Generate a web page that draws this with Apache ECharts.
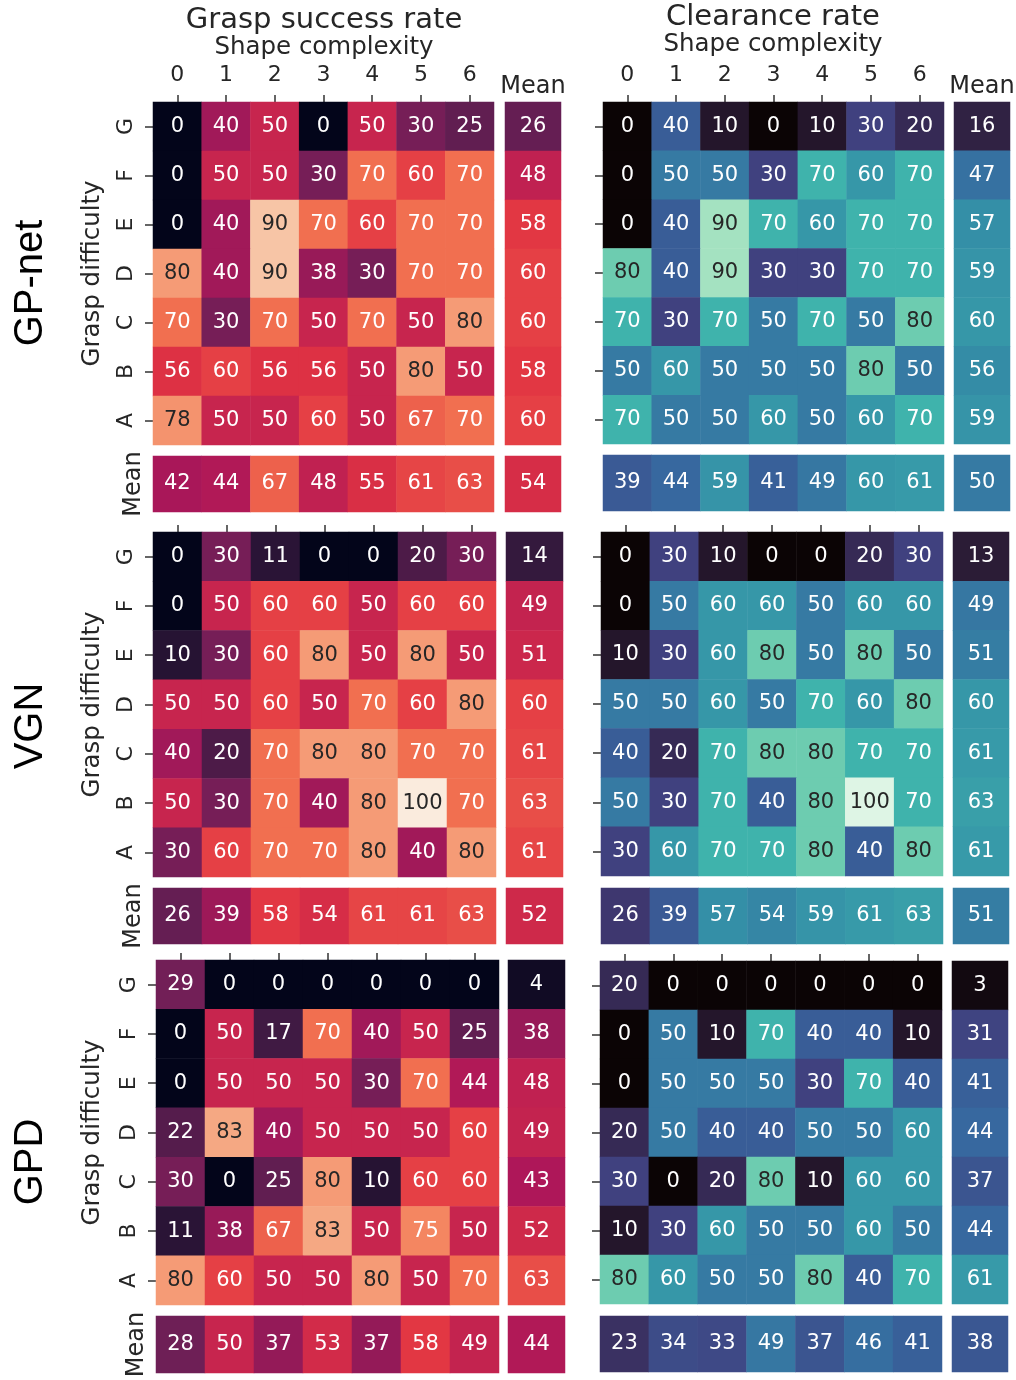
<!DOCTYPE html>
<html><head><meta charset="utf-8">
<script src="https://cdn.jsdelivr.net/npm/echarts@6/dist/echarts.min.js"></script>
<style>html,body{margin:0;padding:0;background:#fff}#c{width:1016px;height:1380px}</style>
</head><body><div id="c"></div>
<script>
// ---------- data ----------
const shapeTicks = ['0', '1', '2', '3', '4', '5', '6'];
const difficultyTicks = ['A', 'B', 'C', 'D', 'E', 'F', 'G']; // bottom -> top
const methods = ['GP-net', 'VGN', 'GPD'];
const panelTitles = ['Grasp success rate', 'Clearance rate'];
const meanLabel = 'Mean';

// rows listed top (G) to bottom (A), columns shape complexity 0..6
const gpnetSuccess = [
  [0, 40, 50, 0, 50, 30, 25],
  [0, 50, 50, 30, 70, 60, 70],
  [0, 40, 90, 70, 60, 70, 70],
  [80, 40, 90, 38, 30, 70, 70],
  [70, 30, 70, 50, 70, 50, 80],
  [56, 60, 56, 56, 50, 80, 50],
  [78, 50, 50, 60, 50, 67, 70]
];
const gpnetSuccessRowMean = [26, 48, 58, 60, 60, 58, 60];
const gpnetSuccessColMean = [42, 44, 67, 48, 55, 61, 63];
const gpnetSuccessMean = 54;

const gpnetClearance = [
  [0, 40, 10, 0, 10, 30, 20],
  [0, 50, 50, 30, 70, 60, 70],
  [0, 40, 90, 70, 60, 70, 70],
  [80, 40, 90, 30, 30, 70, 70],
  [70, 30, 70, 50, 70, 50, 80],
  [50, 60, 50, 50, 50, 80, 50],
  [70, 50, 50, 60, 50, 60, 70]
];
const gpnetClearanceRowMean = [16, 47, 57, 59, 60, 56, 59];
const gpnetClearanceColMean = [39, 44, 59, 41, 49, 60, 61];
const gpnetClearanceMean = 50;

const vgnSuccess = [
  [0, 30, 11, 0, 0, 20, 30],
  [0, 50, 60, 60, 50, 60, 60],
  [10, 30, 60, 80, 50, 80, 50],
  [50, 50, 60, 50, 70, 60, 80],
  [40, 20, 70, 80, 80, 70, 70],
  [50, 30, 70, 40, 80, 100, 70],
  [30, 60, 70, 70, 80, 40, 80]
];
const vgnSuccessRowMean = [14, 49, 51, 60, 61, 63, 61];
const vgnSuccessColMean = [26, 39, 58, 54, 61, 61, 63];
const vgnSuccessMean = 52;

const vgnClearance = [
  [0, 30, 10, 0, 0, 20, 30],
  [0, 50, 60, 60, 50, 60, 60],
  [10, 30, 60, 80, 50, 80, 50],
  [50, 50, 60, 50, 70, 60, 80],
  [40, 20, 70, 80, 80, 70, 70],
  [50, 30, 70, 40, 80, 100, 70],
  [30, 60, 70, 70, 80, 40, 80]
];
const vgnClearanceRowMean = [13, 49, 51, 60, 61, 63, 61];
const vgnClearanceColMean = [26, 39, 57, 54, 59, 61, 63];
const vgnClearanceMean = 51;

const gpdSuccess = [
  [29, 0, 0, 0, 0, 0, 0],
  [0, 50, 17, 70, 40, 50, 25],
  [0, 50, 50, 50, 30, 70, 44],
  [22, 83, 40, 50, 50, 50, 60],
  [30, 0, 25, 80, 10, 60, 60],
  [11, 38, 67, 83, 50, 75, 50],
  [80, 60, 50, 50, 80, 50, 70]
];
const gpdSuccessRowMean = [4, 38, 48, 49, 43, 52, 63];
const gpdSuccessColMean = [28, 50, 37, 53, 37, 58, 49];
const gpdSuccessMean = 44;

const gpdClearance = [
  [20, 0, 0, 0, 0, 0, 0],
  [0, 50, 10, 70, 40, 40, 10],
  [0, 50, 50, 50, 30, 70, 40],
  [20, 50, 40, 40, 50, 50, 60],
  [30, 0, 20, 80, 10, 60, 60],
  [10, 30, 60, 50, 50, 60, 50],
  [80, 60, 50, 50, 80, 40, 70]
];
const gpdClearanceRowMean = [3, 31, 41, 44, 37, 44, 61];
const gpdClearanceColMean = [23, 34, 33, 49, 37, 46, 41];
const gpdClearanceMean = 38;

// ---------- styles / layout ----------
const rocket = ['#03051a', '#35193e', '#701f57', '#ad1759', '#e13342', '#f37651', '#f6b48f', '#faebdd'];
const mako = ['#0b0405', '#2e1e3b', '#413d7b', '#37659e', '#348fa7', '#40b7ad', '#8bdab2', '#def5e5'];
const palettes = [rocket, mako];
const FONT = 'DejaVu Sans';
const INK = '#262626';

const panels = [
  [{ m: gpnetSuccess, rm: gpnetSuccessRowMean, cm: gpnetSuccessColMean, all: gpnetSuccessMean },
   { m: gpnetClearance, rm: gpnetClearanceRowMean, cm: gpnetClearanceColMean, all: gpnetClearanceMean }],
  [{ m: vgnSuccess, rm: vgnSuccessRowMean, cm: vgnSuccessColMean, all: vgnSuccessMean },
   { m: vgnClearance, rm: vgnClearanceRowMean, cm: vgnClearanceColMean, all: vgnClearanceMean }],
  [{ m: gpdSuccess, rm: gpdSuccessRowMean, cm: gpdSuccessColMean, all: gpdSuccessMean },
   { m: gpdClearance, rm: gpdClearanceRowMean, cm: gpdClearanceColMean, all: gpdClearanceMean }]
];

const geo = [
  [{ x: 153, y: 102, w: 341, h: 343, mcx: 505, mcw: 56, mry: 456, mrh: 56 },
   { x: 603, y: 102, w: 341, h: 342, mcx: 954, mcw: 56, mry: 455, mrh: 56 }],
  [{ x: 153, y: 532, w: 343, h: 345, mcx: 506, mcw: 57, mry: 888, mrh: 56 },
   { x: 601, y: 532, w: 342, h: 344, mcx: 953, mcw: 56, mry: 888, mrh: 56 }],
  [{ x: 156, y: 960, w: 343, h: 345, mcx: 508, mcw: 57, mry: 1316, mrh: 57 },
   { x: 600, y: 961, w: 342, h: 343, mcx: 952, mcw: 56, mry: 1316, mrh: 56 }]
];

function hexToRgb(h) { return [1, 3, 5].map(i => parseInt(h.substr(i, 2), 16)); }
function cmapColor(pal, v) {
  const t = Math.max(0, Math.min(1, v / 100)) * (pal.length - 1);
  const i = Math.min(pal.length - 2, Math.floor(t));
  const f = t - i;
  const a = hexToRgb(pal[i]), b = hexToRgb(pal[i + 1]);
  return a.map((c, k) => c + (b[k] - c) * f);
}
function luminance(rgb) {
  const lin = rgb.map(c => { c /= 255; return c <= 0.03928 ? c / 12.92 : Math.pow((c + 0.055) / 1.055, 2.4); });
  return 0.2126 * lin[0] + 0.7152 * lin[1] + 0.0722 * lin[2];
}
function textColor(pal, v) { return luminance(cmapColor(pal, v)) > 0.408 ? INK : '#ffffff'; }

const grids = [], xAxes = [], yAxes = [], series = [];
const vmSeries = [[], []];
const tickStyle = { color: '#333', width: 1.5 };

function item(pal, x, y, v) {
  return { value: [x, y, v], label: { color: textColor(pal, v) } };
}
function addBlock(c, rect, xa, ya, data) {
  grids.push({ left: rect[0], top: rect[1], width: rect[2], height: rect[3], outerBoundsMode: 'none', containLabel: false });
  const gi = grids.length - 1;
  xAxes.push(Object.assign({ gridIndex: gi, type: 'category', splitLine: { show: false }, splitArea: { show: false } }, xa));
  yAxes.push(Object.assign({ gridIndex: gi, type: 'category', splitLine: { show: false }, splitArea: { show: false } }, ya));
  series.push({
    type: 'heatmap', xAxisIndex: gi, yAxisIndex: gi, data: data,
    label: { show: true, formatter: p => String(p.value[2]), fontSize: 21, fontFamily: FONT },
    emphasis: { disabled: true }, silent: true, animation: false
  });
  vmSeries[c].push(series.length - 1);
}

for (let r = 0; r < 3; r++) {
  for (let c = 0; c < 2; c++) {
    const P = panels[r][c], G = geo[r][c], pal = palettes[c];
    // main 7x7
    const mainData = [];
    P.m.forEach((row, i) => row.forEach((v, j) => mainData.push(item(pal, j, 6 - i, v))));
    addBlock(c, [G.x, G.y, G.w, G.h], {
      data: shapeTicks, position: 'top',
      axisLine: { show: false },
      axisTick: { show: true, alignWithLabel: true, length: 7, lineStyle: tickStyle },
      axisLabel: { show: r === 0, interval: 0, fontSize: 22, fontFamily: FONT, color: INK, margin: 16 }
    }, {
      data: difficultyTicks,
      axisLine: { show: false },
      axisTick: { show: true, alignWithLabel: true, length: 8, lineStyle: tickStyle },
      axisLabel: { show: c === 0, interval: 0, rotate: 90, fontSize: 22, fontFamily: FONT, color: INK, margin: 16 }
    }, mainData);
    // mean column
    addBlock(c, [G.mcx, G.y, G.mcw, G.h], {
      data: [meanLabel], position: 'top',
      axisLine: { show: false }, axisTick: { show: false },
      axisLabel: { show: r === 0, fontSize: 24, fontFamily: FONT, color: INK, margin: 3 }
    }, { data: difficultyTicks, show: false }, P.rm.map((v, i) => item(pal, 0, 6 - i, v)));
    // mean row
    addBlock(c, [G.x, G.mry, G.w, G.mrh], { data: shapeTicks, show: false }, {
      data: [meanLabel],
      axisLine: { show: false }, axisTick: { show: false },
      axisLabel: { show: c === 0, rotate: 90, fontSize: 24, fontFamily: FONT, color: INK, margin: 7 }
    }, P.cm.map((v, j) => item(pal, j, 0, v)));
    // overall mean
    addBlock(c, [G.mcx, G.mry, G.mcw, G.mrh], { data: [meanLabel], show: false }, { data: [meanLabel], show: false },
      [item(pal, 0, 0, P.all)]);
  }
}

const graphics = [];
function txt(text, x, y, size, opts) {
  graphics.push(Object.assign({
    type: 'text', x: x, y: y, silent: true,
    style: { text: text, fontSize: size, fontFamily: FONT, fill: INK, align: 'center', verticalAlign: 'middle' }
  }, opts || {}));
}
// panel titles + axis names
txt(panelTitles[0], 324, 20, 29);
txt(panelTitles[1], 773, 17, 29);
txt('Shape complexity', 324, 48, 24.5);
txt('Shape complexity', 773, 45, 24.5);
// row method labels and y-axis names
const methodY = [283, 726, 1162];
for (let r = 0; r < 3; r++) {
  const G = geo[r][0];
  txt('Grasp difficulty', 93, G.y + G.h / 2, 24.5, { rotation: Math.PI / 2 });
  graphics.push({
    type: 'text', x: 31, y: methodY[r], rotation: Math.PI / 2, silent: true,
    style: { text: methods[r], fontSize: 40, fontFamily: 'Liberation Sans', fill: '#000', align: 'center', verticalAlign: 'middle' }
  });
}

const chart = echarts.init(document.getElementById('c'), null, { renderer: 'canvas' });
chart.setOption({
  animation: false,
  backgroundColor: '#ffffff',
  grid: grids, xAxis: xAxes, yAxis: yAxes, series: series,
  visualMap: [
    { type: 'continuous', show: false, min: 0, max: 100, dimension: 2, seriesIndex: vmSeries[0], inRange: { color: rocket } },
    { type: 'continuous', show: false, min: 0, max: 100, dimension: 2, seriesIndex: vmSeries[1], inRange: { color: mako } }
  ],
  graphic: graphics
});
</script>
</body></html>
